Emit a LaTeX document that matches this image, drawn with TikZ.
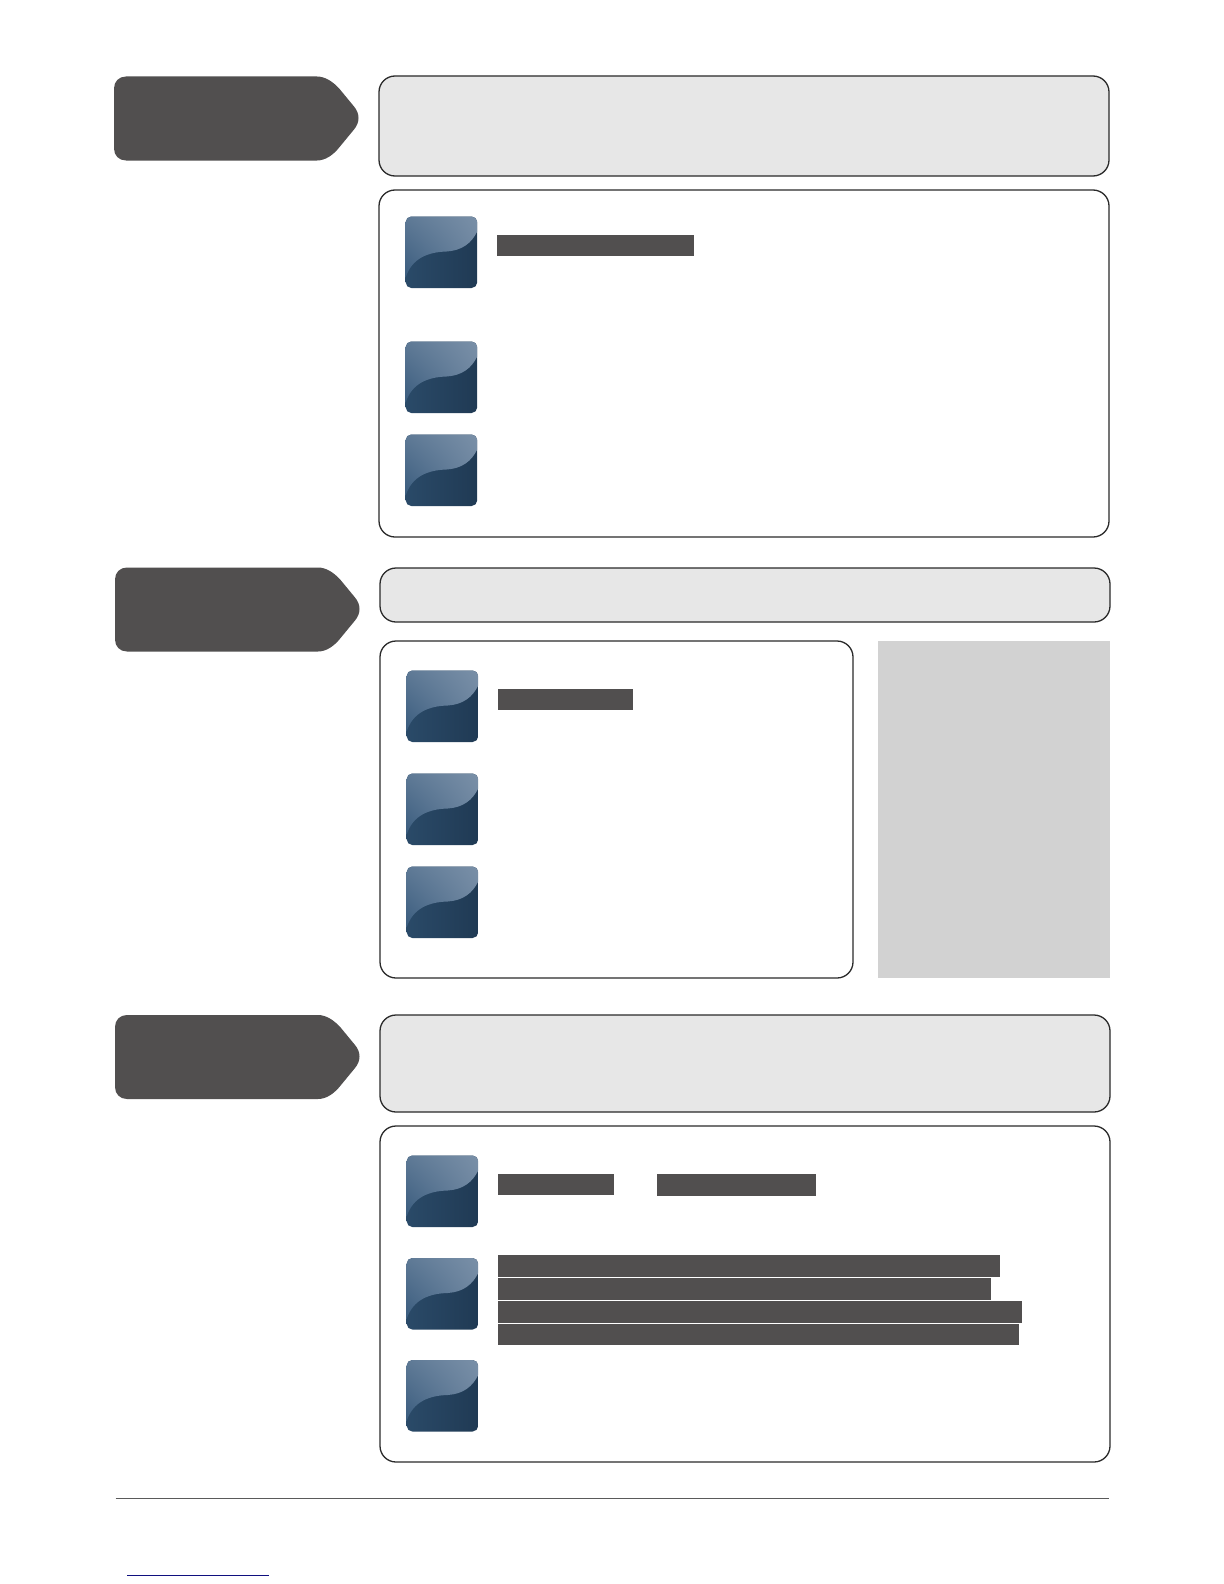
\documentclass[tikz,border=0pt]{standalone}
\usetikzlibrary{shadings}
\definecolor{darkfill}{HTML}{514F4F}
\definecolor{panelgray}{HTML}{E7E7E7}
\definecolor{sidegray}{HTML}{D2D2D2}
\definecolor{edgeline}{HTML}{2A2A2A}
\definecolor{rulegray}{HTML}{5A5A5A}
\definecolor{linkblue}{HTML}{10107F}
\definecolor{iconhiUR}{HTML}{7A90A8}
\definecolor{iconhiUL}{HTML}{5F7A96}
\definecolor{iconhiLL}{HTML}{3A5C7E}
\definecolor{iconhiLR}{HTML}{6C849E}
\definecolor{iconloA}{HTML}{203A54}
\definecolor{iconloB}{HTML}{2A4A68}
\tikzset{
  x=0.5pt,y=-0.5pt,
  graybox/.style={draw=edgeline,line width=0.65pt,fill=panelgray,rounded corners=8pt},
  whitebox/.style={draw=edgeline,line width=0.65pt,fill=white,rounded corners=8pt},
  bar/.style={fill=darkfill,draw=none},
  tabshape/.style={fill=darkfill,draw=none},
}
\newcommand{\tabat}[2]{%
  \begin{scope}[shift={(#1,#2)}]
    \path[tabshape] (12,0) -- (203,0)
      .. controls (211,0) and (219,5) .. (226,13)
      -- (240,30)
      .. controls (246,37) and (246,46) .. (240,53)
      -- (226,70)
      .. controls (219,79) and (211,84) .. (203,84)
      -- (12,84)
      .. controls (5,84) and (0,79) .. (0,72)
      -- (0,12)
      .. controls (0,5) and (5,0) .. (12,0) -- cycle;
  \end{scope}}
\newcommand{\iconat}[2]{%
  \begin{scope}[shift={(#1,#2)}]
    \begin{scope}
      \clip[rounded corners=2.8pt] (0,0) rectangle (71.5,71.5);
      \path[left color=iconloB,right color=iconloA] (0,0) rectangle (71.5,71.5);
      \path[lower left=iconhiLL,upper right=iconhiUR,lower right=iconhiLR,upper left=iconhiUL]
        (0,-1) -- (72,-1) -- (72,14)
        .. controls (66,27) and (56,34) .. (41,35)
        .. controls (22,35.5) and (6,42) .. (0,61) -- cycle;
    \end{scope}
  \end{scope}}
\begin{document}
\begin{tikzpicture}
\useasboundingbox (0,0) rectangle (1224,1584);
\path[fill=white] (0,0) rectangle (1224,1584);
% section 1
\tabat{114}{76.5}
\draw[graybox] (379,76) rectangle (1109,176);
\draw[whitebox] (379,190) rectangle (1109,537);
\iconat{405.7}{216.5}
\iconat{405.7}{341.5}
\iconat{405.7}{434.5}
\path[bar] (497,235) rectangle (694,256);
% section 2
\tabat{115}{567.5}
\draw[graybox] (380,568) rectangle (1110,622);
\draw[whitebox] (380,641) rectangle (853,978);
\path[fill=sidegray] (878,641) rectangle (1110,978);
\iconat{406.7}{670.5}
\iconat{406.7}{773.5}
\iconat{406.7}{866.5}
\path[bar] (498,689) rectangle (633,710);
% section 3
\tabat{115}{1015}
\draw[graybox] (380,1015) rectangle (1110,1112);
\draw[whitebox] (380,1126) rectangle (1110,1462);
\iconat{406.7}{1155.5}
\iconat{406.7}{1258}
\iconat{406.7}{1360}
\path[bar] (498,1174) rectangle (614,1195);
\path[bar] (657,1174) rectangle (816,1196);
\path[bar] (498,1255) rectangle (1000,1277);
\path[bar] (498,1278) rectangle (991,1300);
\path[bar] (498,1301) rectangle (1022,1323);
\path[bar] (498,1324) rectangle (1019,1345);
% footer
\draw[rulegray,line width=0.65pt] (115.5,1498.3) -- (1109,1498.3);
\draw[linkblue,line width=0.65pt] (127,1575.3) -- (269,1575.3);
\end{tikzpicture}
\end{document}
